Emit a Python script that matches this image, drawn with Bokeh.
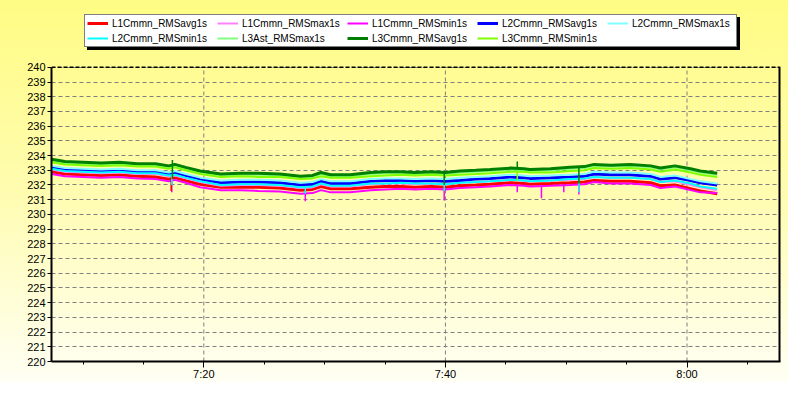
from bokeh.plotting import figure
from bokeh.models import Range1d, FixedTicker, Legend, LegendItem
from bokeh.embed import file_html
from bokeh.resources import INLINE

# time in minutes after 7:00
t_min = [7.4, 8.5, 10.0, 11.5, 13.0, 14.5, 16.0, 17.1, 17.6, 18.5,
         19.7, 21.4, 23.0, 24.5, 26.3, 28.0, 29.0, 29.7, 30.5, 32.1,
         33.8, 35.0, 36.3, 37.5, 38.8, 40.0, 41.2, 42.5, 43.7, 45.4,
         46.5, 47.0, 48.7, 50.3, 51.5, 52.3, 53.7, 55.3, 57.0, 57.8,
         59.0, 60.3, 61.1, 62.5]

l1_avg = [232.9, 232.75, 232.7, 232.65, 232.7, 232.6, 232.55, 232.4, 232.5, 232.3,
          232.05, 231.85, 231.85, 231.85, 231.8, 231.65, 231.7, 231.9, 231.75, 231.75,
          231.85, 231.9, 231.9, 231.85, 231.9, 231.85, 231.95, 232.0, 232.05, 232.15,
          232.1, 232.05, 232.1, 232.15, 232.2, 232.3, 232.25, 232.25, 232.15, 231.95,
          232.0, 231.75, 231.6, 231.4]
l1_max = [233.05, 232.9, 232.85, 232.8, 232.85, 232.75, 232.75, 232.6, 232.65, 232.45,
          232.2, 231.95, 232.0, 232.0, 231.95, 231.8, 231.85, 232.05, 231.9, 231.9,
          232.05, 232.1, 232.1, 232.05, 232.1, 232.05, 232.15, 232.2, 232.25, 232.35,
          232.3, 232.25, 232.3, 232.35, 232.4, 232.55, 232.5, 232.5, 232.4, 232.2,
          232.25, 232.0, 231.85, 231.65]
l1_min = [232.75, 232.6, 232.55, 232.5, 232.55, 232.45, 232.4, 232.25, 232.35, 232.15,
          231.85, 231.65, 231.65, 231.6, 231.55, 231.4, 231.45, 231.65, 231.5, 231.5,
          231.65, 231.7, 231.75, 231.7, 231.75, 231.7, 231.8, 231.85, 231.9, 232.0,
          231.95, 231.9, 231.95, 232.0, 232.05, 232.2, 232.1, 232.1, 232.0, 231.8,
          231.9, 231.65, 231.5, 231.45]
l2_avg = [233.2, 233.05, 233.0, 232.95, 233.0, 232.9, 232.9, 232.75, 232.85, 232.65,
          232.4, 232.15, 232.2, 232.2, 232.15, 232.0, 232.05, 232.25, 232.1, 232.1,
          232.25, 232.3, 232.3, 232.25, 232.3, 232.25, 232.3, 232.4, 232.45, 232.55,
          232.5, 232.45, 232.5, 232.55, 232.6, 232.75, 232.7, 232.7, 232.6, 232.4,
          232.5, 232.3, 232.15, 232.0]
l2_max = [233.3, 233.15, 233.1, 233.05, 233.1, 233.0, 233.0, 232.85, 232.95, 232.75,
          232.5, 232.3, 232.35, 232.35, 232.3, 232.15, 232.2, 232.4, 232.25, 232.25,
          232.4, 232.45, 232.45, 232.4, 232.45, 232.4, 232.5, 232.55, 232.6, 232.7,
          232.65, 232.6, 232.65, 232.7, 232.75, 232.9, 232.85, 232.85, 232.75, 232.55,
          232.65, 232.4, 232.25, 232.1]
l2_min = [233.1, 232.95, 232.9, 232.85, 232.9, 232.8, 232.8, 232.65, 232.7, 232.5,
          232.25, 232.0, 232.05, 232.05, 232.0, 231.85, 231.9, 232.1, 231.95, 231.95,
          232.1, 232.1, 232.15, 232.1, 232.1, 232.05, 232.15, 232.2, 232.25, 232.35,
          232.3, 232.25, 232.3, 232.4, 232.45, 232.55, 232.5, 232.5, 232.4, 232.2,
          232.3, 232.1, 231.9, 231.75]
l3ast_max = [233.65, 233.5, 233.45, 233.4, 233.45, 233.35, 233.35, 233.2, 233.3, 233.1,
             232.85, 232.65, 232.7, 232.7, 232.65, 232.5, 232.55, 232.75, 232.6, 232.6,
             232.75, 232.8, 232.8, 232.75, 232.8, 232.75, 232.85, 232.9, 232.95, 233.05,
             233.0, 232.95, 233.0, 233.1, 233.15, 233.3, 233.25, 233.3, 233.2, 233.05,
             233.2, 233.0, 232.85, 232.7]
l3_avg = [233.75, 233.6, 233.55, 233.5, 233.55, 233.45, 233.45, 233.3, 233.4, 233.2,
          232.95, 232.75, 232.8, 232.8, 232.75, 232.6, 232.65, 232.85, 232.7, 232.7,
          232.85, 232.9, 232.9, 232.85, 232.9, 232.85, 232.95, 233.0, 233.05, 233.15,
          233.1, 233.05, 233.1, 233.2, 233.25, 233.4, 233.35, 233.4, 233.3, 233.15,
          233.3, 233.1, 232.95, 232.8]
l3_min = [233.55, 233.4, 233.35, 233.3, 233.35, 233.25, 233.25, 233.1, 233.2, 233.0,
          232.75, 232.55, 232.6, 232.55, 232.55, 232.4, 232.45, 232.6, 232.5, 232.5,
          232.6, 232.65, 232.7, 232.65, 232.7, 232.65, 232.7, 232.75, 232.8, 232.9,
          232.9, 232.85, 232.85, 232.95, 233.0, 233.15, 233.1, 233.15, 233.05, 232.9,
          233.05, 232.85, 232.7, 232.55]

# short spikes (time, from, to)
l1_min_spike_t = [17.35, 28.4, 39.9, 45.95, 47.95, 49.8, 51.05]
l1_min_spike_from = [232.25, 231.4, 231.7, 231.95, 231.9, 232.0, 232.05]
l1_min_spike_to = [231.5, 230.9, 230.95, 231.5, 231.1, 231.5, 231.35]
l1_avg_spike_t = [17.3]
l1_avg_spike_from = [232.4]
l1_avg_spike_to = [231.6]
l2_min_spike_t = [17.35, 28.4, 39.9, 51.05]
l2_min_spike_from = [232.65, 231.9, 232.05, 232.45]
l2_min_spike_to = [232.0, 231.4, 231.6, 231.5]
l3_min_spike_t = [45.95]
l3_min_spike_from = [232.9]
l3_min_spike_to = [232.3]
l3_avg_spike_t = [17.4, 39.9, 45.95, 51.05]
l3_avg_spike_from = [232.4, 232.85, 233.1, 233.2]
l3_avg_spike_to = [233.7, 232.0, 233.6, 232.1]

y_min, y_max = 220, 240
x_start, x_end = 7.39, 67.74
y_ticks = list(range(y_min, y_max + 1))
x_tick_minutes = [20, 40, 60]
x_tick_labels = ["7:20", "7:40", "8:00"]
x_minor_minutes = [10, 15, 25, 30, 35, 45, 50, 55, 65]

series = [
    ("L1Cmmn_RMSavg1s", l1_avg, "#FF0000", 3),
    ("L1Cmmn_RMSmax1s", l1_max, "#FF80FF", 2),
    ("L1Cmmn_RMSmin1s", l1_min, "#FF00FF", 2),
    ("L2Cmmn_RMSavg1s", l2_avg, "#0000FF", 3),
    ("L2Cmmn_RMSmax1s", l2_max, "#80FFFF", 2),
    ("L2Cmmn_RMSmin1s", l2_min, "#00FFFF", 2),
    ("L3Ast_RMSmax1s", l3ast_max, "#80FF80", 2),
    ("L3Cmmn_RMSavg1s", l3_avg, "#008000", 3),
    ("L3Cmmn_RMSmin1s", l3_min, "#80FF00", 2),
]

# frame extends above 240 to hold the legend; plotted box is 220..240
W, H = 788, 382
border_left, border_right, border_top, border_bottom = 51, 8, 7, 20
px_per_volt = 14.75
frame_h = H - border_top - border_bottom
y_top = y_min + frame_h / px_per_volt

p = figure(width=W, height=H, output_backend="svg", toolbar_location=None,
           x_range=Range1d(x_start, x_end), y_range=Range1d(y_min, y_top),
           min_border_left=border_left, min_border_right=border_right,
           min_border_top=border_top, min_border_bottom=border_bottom,
           background_fill_color=None, border_fill_color=None,
           outline_line_color=None)
p.title.visible = False
p.styles = {"background": "linear-gradient(to bottom, #FFFC84 0%, #FFFCB0 50%, #FFFFF4 100%)"}

# vertical dashed grid lines at the major time ticks, limited to the plot box
p.segment(x0=x_tick_minutes, y0=[y_min] * len(x_tick_minutes),
          x1=x_tick_minutes, y1=[y_max] * len(x_tick_minutes),
          line_color="#7F7F7F", line_dash="4 3", line_width=1)

renderers = {}
for name, ys, color, w in series:
    renderers[name] = p.line(t_min, ys, line_color=color, line_width=w)

p.segment(x0=l1_min_spike_t, y0=l1_min_spike_from, x1=l1_min_spike_t, y1=l1_min_spike_to,
          line_color="#FF00FF", line_width=1.5)
p.segment(x0=l1_avg_spike_t, y0=l1_avg_spike_from, x1=l1_avg_spike_t, y1=l1_avg_spike_to,
          line_color="#FF0000", line_width=1.5)
p.segment(x0=l2_min_spike_t, y0=l2_min_spike_from, x1=l2_min_spike_t, y1=l2_min_spike_to,
          line_color="#00FFFF", line_width=1.5)
p.segment(x0=l3_min_spike_t, y0=l3_min_spike_from, x1=l3_min_spike_t, y1=l3_min_spike_to,
          line_color="#80FF00", line_width=1.5)
p.segment(x0=l3_avg_spike_t, y0=l3_avg_spike_from, x1=l3_avg_spike_t, y1=l3_avg_spike_to,
          line_color="#008000", line_width=1.5)

# plot box border: dashed black top, solid black right
p.segment(x0=[x_start], y0=[y_max], x1=[x_end], y1=[y_max],
          line_color="black", line_dash="4 2", line_width=1.5)
p.segment(x0=[x_end], y0=[y_min], x1=[x_end], y1=[y_max],
          line_color="black", line_width=4)

# axes
p.xaxis.ticker = FixedTicker(ticks=x_tick_minutes, minor_ticks=x_minor_minutes)
p.xaxis.major_label_overrides = dict(zip(x_tick_minutes, x_tick_labels))
p.yaxis.ticker = FixedTicker(ticks=y_ticks)
p.yaxis.bounds = (y_min, y_max)
for ax in (p.xaxis, p.yaxis):
    ax.axis_line_color = "black"
    ax.axis_line_width = 2
    ax.major_tick_line_color = "black"
    ax.minor_tick_line_color = "black"
    ax.major_tick_in = 0
    ax.minor_tick_in = 0
    ax.major_label_text_font = "Liberation Sans"
    ax.major_label_text_font_size = "11px"
    ax.major_label_text_color = "black"
p.xaxis.major_label_standoff = 0
p.yaxis.major_label_standoff = 2
p.xaxis.major_tick_out = 6
p.xaxis.minor_tick_out = 3
p.yaxis.major_tick_out = 4
p.yaxis.minor_tick_out = 0

p.xgrid.visible = False
p.ygrid.grid_line_color = "#7F7F7F"
p.ygrid.grid_line_dash = "4 3"
p.ygrid.grid_line_width = 1

items = [LegendItem(label=name, renderers=[renderers[name]]) for name, _, _, _ in series]
items_shadow = [LegendItem(label=" ", renderers=[renderers[name]]) for name, _, _, _ in series]

common = dict(orientation="horizontal", ncols=5, padding=2, spacing=3, margin=0,
              glyph_width=21, glyph_height=12, label_height=12, label_width=102,
              label_standoff=4,
              label_text_font="Liberation Sans", label_text_font_size="10px",
              border_line_color="black", border_line_width=1,
              background_fill_alpha=1.0)
shadow = Legend(items=items_shadow, location=(36, 311),
                background_fill_color="black", label_text_color="black", **common)
legend = Legend(items=items, location=(33, 314),
                background_fill_color="white", label_text_color="black", **common)
p.add_layout(shadow, "center")
p.add_layout(legend, "center")

open("out.html", "w").write(file_html(p, INLINE))
